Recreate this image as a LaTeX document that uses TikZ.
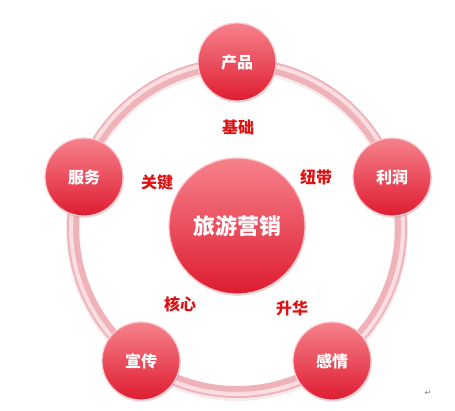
\documentclass[tikz,border=0pt]{standalone}
\usepackage{fontspec}
\newfontfamily\cjk{Noto Sans CJK SC}
\newfontfamily\dejavu{DejaVu Sans}
\usetikzlibrary{shadows}
\definecolor{ringc}{RGB}{240,178,185}
\definecolor{ringhi}{RGB}{250,222,225}
\definecolor{balltop}{RGB}{246,130,140}
\definecolor{ballmid}{RGB}{236,70,85}
\definecolor{ballbot}{RGB}{222,28,48}
\definecolor{ballrim}{RGB}{250,200,205}
\definecolor{labelred}{RGB}{222,18,18}
\tikzset{
  ball/.style={circle, draw=ballrim, line width=1.2pt, top color=balltop, middle color=ballmid, bottom color=ballbot,
    text=white, inner sep=0pt,
    drop shadow={opacity=0.25, shadow xshift=0.8pt, shadow yshift=-1.8pt}},
  outer/.style={ball, minimum size=78pt, font=\cjk\bfseries\fontsize{16}{16}\selectfont},
  lbl/.style={text=labelred, font=\cjk\bfseries\fontsize{16}{16}\selectfont, inner sep=0pt},
}
\begin{document}
\begin{tikzpicture}[x=1pt,y=-1pt]
\useasboundingbox (0,0) rectangle (455,410);
\fill[white] (0,0) rectangle (455,410);
\coordinate (o) at (237,228);
\draw[ringc!80!gray!60!white, line width=14pt, opacity=0.35] ([yshift=-2pt]o) circle[radius=164pt];
\draw[ringc, line width=12pt] (o) circle[radius=164pt];
\draw[ringhi, line width=4pt] (o) circle[radius=166pt];
\node[ball, minimum size=136pt, font=\cjk\bfseries\fontsize{22}{22}\selectfont] (center) at (237,226) {旅游营销};
\node[outer] (chanpin) at (237,62) {产品};
\node[outer] (lirun) at (392,177) {利润};
\node[outer] (ganqing) at (332,361) {感情};
\node[outer] (xuanchuan) at (141,361) {宣传};
\node[outer] (fuwu) at (84,177) {服务};
\node[lbl] (jichu) at (238,127) {基础};
\node[lbl] (niudai) at (316,177) {纽带};
\node[lbl] (shenghua) at (292,308) {升华};
\node[lbl] (hexin) at (180,304) {核心};
\node[lbl] (guanjian) at (157,182) {关键};
\node[text=gray, font=\dejavu\fontsize{8}{8}\selectfont, inner sep=0pt] (mark) at (428,393) {↵};
\end{tikzpicture}
\end{document}
